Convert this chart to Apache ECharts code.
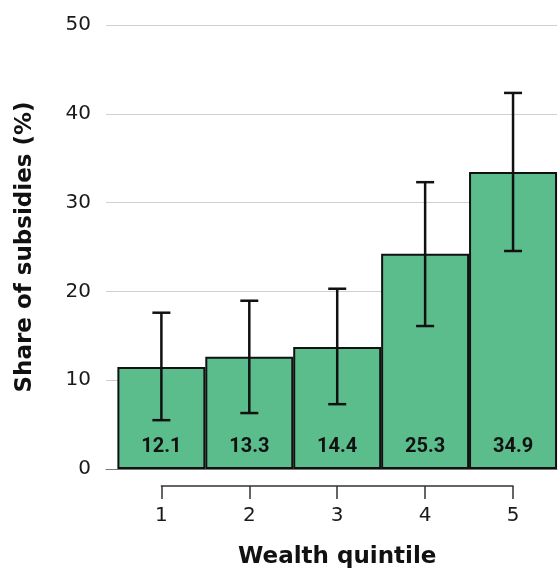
<!DOCTYPE html>
<html>
<head>
<meta charset="utf-8">
<script src="https://cdn.jsdelivr.net/npm/echarts@6/dist/echarts.min.js"></script>
<style>
html,body{margin:0;padding:0;background:#fff;}
#chart{width:558px;height:570px;}
</style>
</head>
<body>
<div id="chart"></div>
<script>
// Data
const quintiles = [1, 2, 3, 4, 5];
const quintileLabels = ['1', '2', '3', '4', '5'];
const shares = [11.5, 12.65, 13.75, 24.25, 33.45];
const barLabels = ['12.1', '13.3', '14.4', '25.3', '34.9'];
const ciLow = [5.5, 6.3, 7.3, 16.1, 24.55];
const ciHigh = [17.6, 18.95, 20.3, 32.3, 42.35];
const yTicks = [0, 10, 20, 30, 40, 50];

const FONT = '"DejaVu Sans"';
const chart = echarts.init(document.getElementById('chart'), null, {renderer: 'canvas'});

const option = {
  animation: false,
  backgroundColor: '#ffffff',
  grid: [
    {left: 106, right: 1, top: 25, bottom: 101},
    {left: 161.4, right: 45, top: 470, height: 20}
  ],
  xAxis: [
    {
      gridIndex: 0, type: 'value', min: 0.37, max: 5.5,
      axisLine: {show: true, lineStyle: {color: '#777', width: 1}},
      axisTick: {show: false}, axisLabel: {show: false}, splitLine: {show: false}
    },
    {
      gridIndex: 1, type: 'value', min: 1, max: 5, interval: 1, position: 'bottom',
      axisLine: {show: true, lineStyle: {color: '#333', width: 1.5}},
      axisTick: {show: true, length: 13, lineStyle: {color: '#333', width: 1.5}},
      axisLabel: {
        fontFamily: FONT, fontSize: 20, color: '#1a1a1a', margin: 20,
        formatter: v => quintileLabels[quintiles.indexOf(v)] || ''
      },
      splitLine: {show: false},
      name: 'Wealth quintile', nameLocation: 'middle', nameGap: 60,
      nameTextStyle: {fontFamily: FONT, fontSize: 23, fontWeight: 'bold', color: '#111'}
    }
  ],
  yAxis: [
    {
      gridIndex: 0, type: 'value', min: yTicks[0], max: yTicks[yTicks.length - 1], interval: 10,
      axisLine: {show: false}, axisTick: {show: false},
      axisLabel: {fontFamily: FONT, fontSize: 20, color: '#1a1a1a', margin: 15},
      splitLine: {show: true, lineStyle: {color: '#d0d0d0', width: 1}},
      name: 'Share of subsidies (%)', nameLocation: 'middle', nameGap: 69,
      nameTextStyle: {fontFamily: FONT, fontSize: 23, fontWeight: 'bold', color: '#111'}
    },
    {gridIndex: 1, type: 'value', show: false}
  ],
  series: [
    {
      type: 'bar',
      xAxisIndex: 0, yAxisIndex: 0,
      data: shares.map((v, i) => [quintiles[i], v]),
      barWidth: 88,
      itemStyle: {color: '#5bbd8b', borderColor: '#111', borderWidth: 2},
      label: {
        show: true, position: 'insideBottom', distance: 12,
        fontFamily: 'Roboto', fontWeight: 'bold', fontSize: 20, color: '#111',
        formatter: p => barLabels[p.dataIndex]
      },
      z: 2
    },
    {
      type: 'custom',
      xAxisIndex: 0, yAxisIndex: 0,
      data: quintiles.map((q, i) => [q, ciLow[i], ciHigh[i]]),
      renderItem: function (params, api) {
        const x = api.value(0);
        const lo = api.coord([x, api.value(1)]);
        const hi = api.coord([x, api.value(2)]);
        const half = 9;
        const style = {stroke: '#111', lineWidth: 2.5, fill: null};
        return {
          type: 'group',
          children: [
            {type: 'line', shape: {x1: lo[0], y1: lo[1], x2: hi[0], y2: hi[1]}, style: style},
            {type: 'line', shape: {x1: lo[0] - half, y1: lo[1], x2: lo[0] + half, y2: lo[1]}, style: style},
            {type: 'line', shape: {x1: hi[0] - half, y1: hi[1], x2: hi[0] + half, y2: hi[1]}, style: style}
          ]
        };
      },
      z: 5
    }
  ]
};
chart.setOption(option);
</script>
</body>
</html>
